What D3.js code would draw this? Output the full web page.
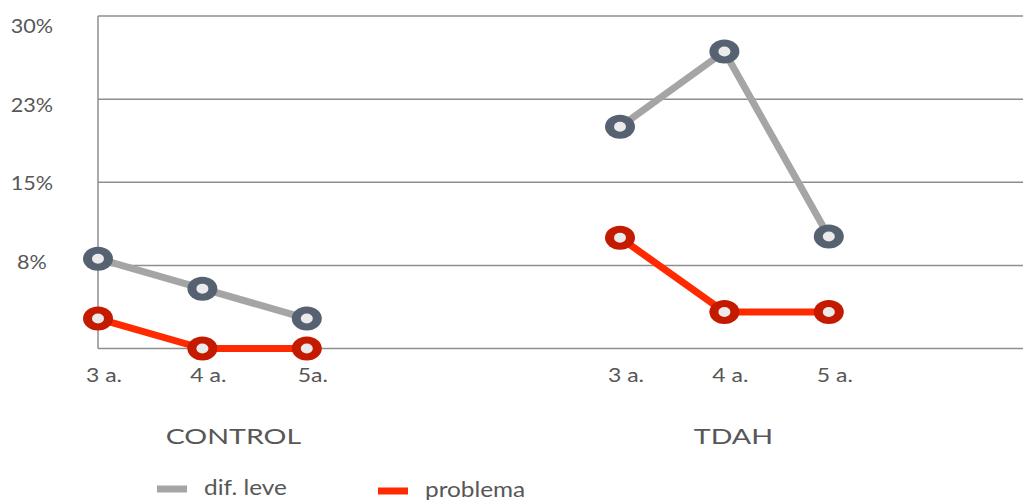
<!DOCTYPE html>
<html>
<head>
<meta charset="utf-8">
<script src="https://cdn.jsdelivr.net/npm/d3@7"></script>
<style>
  html, body { margin: 0; padding: 0; background: #fff; }
  svg { display: block; font-family: "Lato", "Open Sans", sans-serif; }
</style>
</head>
<body>
<svg id="chart" width="1023" height="500"></svg>
<script>
// Age slots along the x axis (two empty slots separate the groups)
const slotLabels = ["3 a.", "4 a.", "5a.", "", "", "3 a.", "4 a.", "5 a."];
const groups = ["CONTROL", "TDAH"];
const groupSlots = [[0, 1, 2], [5, 6, 7]];

// Percentages per group, in age order 3, 4, 5
const difLeve = [[8.1, 5.4, 2.7], [20.0, 26.8, 10.1]];
const problema = [[2.7, 0, 0], [10.0, 3.3, 3.3]];

const yTicks = [7.5, 15, 22.5, 30];
const yTickLabels = ["8%", "15%", "23%", "30%"];

const seriesNames = ["dif. leve", "problema"];
const lineColors = ["#a5a5a5", "#ff2a00"];
const markerColors = ["#566171", "#c41a00"];

const svg = d3.select("#chart");
const plotLeft = 98, plotRight = 1023, plotTop = 16, plotBottom = 348.5;
const textColor = "#575757";

const x = d3.scaleLinear().domain([0, 8]).range([plotLeft, plotLeft + 8 * 104.4]);
const y = d3.scaleLinear().domain([0, 30]).range([plotBottom, plotTop]);
// tick labels sit on a slightly compressed scale beside the gridlines
const yLabel = d3.scaleLinear().domain([0, 30]).range([340, 24.5]);

// text drawn with a wide humanist look: horizontal stretch about its anchor
function wideText(sel, sx) {
  return sel.attr("transform", function (d, i) {
    const px = +this.getAttribute("data-x"), py = +this.getAttribute("data-y");
    return `translate(${px},${py}) scale(${sx},1)`;
  });
}

// Horizontal gridlines
svg.append("g")
  .selectAll("line")
  .data([0].concat(yTicks))
  .join("line")
  .attr("x1", plotLeft).attr("x2", plotRight)
  .attr("y1", d => y(d)).attr("y2", d => y(d))
  .attr("stroke", "#8e8e8e").attr("stroke-width", 1.5);

// Vertical axis line
svg.append("line")
  .attr("x1", plotLeft).attr("x2", plotLeft)
  .attr("y1", plotTop).attr("y2", plotBottom)
  .attr("stroke", "#8e8e8e").attr("stroke-width", 1.5);

// Y tick labels
svg.append("g")
  .selectAll("text")
  .data(yTicks)
  .join("text")
  .attr("data-x", 32)
  .attr("data-y", d => yLabel(d))
  .attr("text-anchor", "middle")
  .attr("dominant-baseline", "central")
  .attr("font-size", 20)
  .attr("fill", textColor)
  .text((d, i) => yTickLabels[i])
  .call(wideText, 1.08);

// X tick labels
svg.append("g")
  .selectAll("text")
  .data(slotLabels.map((l, i) => ({ l, i })).filter(d => d.l))
  .join("text")
  .attr("data-x", d => x(d.i) + 6)
  .attr("data-y", 382)
  .attr("text-anchor", "middle")
  .attr("font-size", 20)
  .attr("fill", textColor)
  .text(d => d.l)
  .call(wideText, 1.15);

// Group labels
const groupOffsets = [31, 9];
svg.append("g")
  .selectAll("text")
  .data(groups)
  .join("text")
  .attr("data-x", (d, i) => x(groupSlots[i][1]) + groupOffsets[i])
  .attr("data-y", 444)
  .attr("text-anchor", "middle")
  .attr("font-size", 22)
  .attr("fill", textColor)
  .text(d => d)
  .call(wideText, 1.3);

// Lines and markers
const line = d3.line().x(d => x(d.s)).y(d => y(d.v));
[difLeve, problema].forEach((series, si) => {
  series.forEach((vals, gi) => {
    const pts = vals.map((v, k) => ({ s: groupSlots[gi][k], v }));
    svg.append("path")
      .datum(pts)
      .attr("d", line)
      .attr("fill", "none")
      .attr("stroke", lineColors[si])
      .attr("stroke-width", 7)
      .attr("stroke-linejoin", "round");
    const m = svg.append("g").selectAll("g").data(pts).join("g")
      .attr("transform", d => `translate(${x(d.s)},${y(d.v)})`);
    m.append("ellipse").attr("rx", 15).attr("ry", 12).attr("fill", markerColors[si]);
    m.append("ellipse").attr("rx", 6).attr("ry", 5).attr("fill", "#ebebeb");
  });
});

// Legend
const legendX = [157, 378];
const lg = svg.append("g").selectAll("g").data(seriesNames).join("g")
  .attr("transform", (d, i) => `translate(${legendX[i]},${489 + i * 2})`);
lg.append("rect").attr("x", 0).attr("y", -3.5).attr("width", 30).attr("height", 7)
  .attr("fill", (d, i) => lineColors[i]);
lg.append("text")
  .attr("data-x", 47).attr("data-y", 6)
  .attr("font-size", 21).attr("fill", textColor).text(d => d)
  .call(wideText, 1.16);
</script>
</body>
</html>
